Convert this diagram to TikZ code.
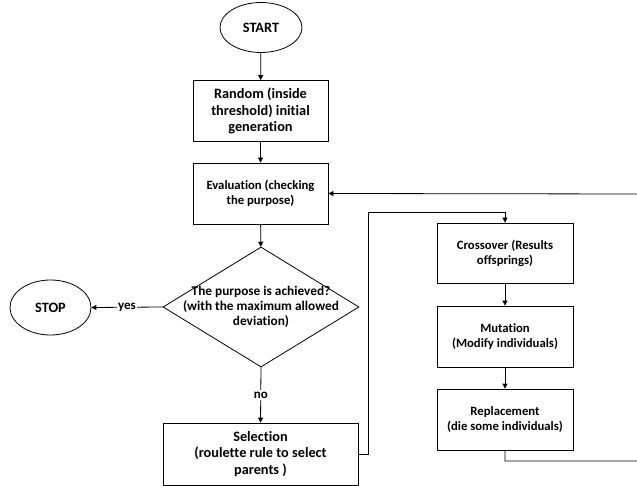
\documentclass[tikz,border=0pt]{standalone}
\usepackage{fontspec}
\setmainfont{Carlito}[Ligatures=NoCommon]
\usetikzlibrary{shapes.geometric,arrows.meta}

\begin{document}
\begin{tikzpicture}[
    x=1pt,y=-1pt,line width=0.8pt,
    every node/.style={font=\bfseries,align=center,inner sep=0pt},
    bigtext/.style={font=\bfseries\fontsize{14.3}{16.7}\selectfont},
    smalltext/.style={font=\bfseries\fontsize{12.7}{15}\selectfont},
    box/.style={draw,rectangle,minimum width=135pt,minimum height=61pt},
    oval/.style={draw,ellipse,minimum width=82pt,minimum height=50pt},
    test/.style={draw,diamond,minimum width=196pt,minimum height=120pt},
    >={Triangle[length=5pt,width=5pt]}
]
\clip (0,0) rectangle (637,486);

% main column
\node[oval,bigtext] (start) at (261,27.5) {START};
\node[box,bigtext] (rand) at (260.5,111) {Random (inside\\threshold) initial\\generation};
\node[box,smalltext] (eval) at (260.5,193.5) {Evaluation (checking\\the purpose)};
\node[test,label={[smalltext,font=\bfseries\fontsize{13.3}{15.3}\selectfont,align=center]center:The purpose is achieved?\\(with the maximum allowed\\deviation)}] (check) at (261,307) {};
\node[oval,bigtext,minimum width=81pt,minimum height=55pt] (stop) at (50.5,307.5) {STOP};
\node[box,bigtext,minimum width=195pt,minimum height=62pt] (sel) at (260.5,454) {Selection\\(roulette rule to select\\parents )};

% genetic operators
\node[box,smalltext,minimum width=136pt,minimum height=60pt] (cross) at (505,253) {Crossover (Results\\offsprings)};
\node[box,smalltext,minimum width=136pt] (mut) at (505,336.5) {Mutation\\(Modify individuals)};
\node[box,smalltext,minimum width=136pt] (repl) at (505,419.5) {Replacement\\(die some individuals)};

\coordinate (selUp) at (368,212);
\coordinate (loopB) at (641,461);
\coordinate (loopT) at (641,194);

\draw[->] (start) -- (rand);
\draw[->] (rand) -- (eval);
\draw[->] (eval) -- (check);
\draw[->] (check.west) -- node[bigtext,font=\bfseries\fontsize{13}{15}\selectfont,fill=white,inner sep=1pt] {yes} (stop.east);
\draw[->] (check.south) -- node[font=\bfseries\fontsize{13}{15}\selectfont,fill=white,inner sep=2pt] {no} (sel.north);
\draw[->] (sel.east) -| (selUp) -| (cross.north);
\draw[->] (cross) -- (mut);
\draw[->] (mut) -- (repl);
\draw[->,overlay] (repl.south) |- (loopB) -- (loopT) -- (eval.east);
\end{tikzpicture}
\end{document}
